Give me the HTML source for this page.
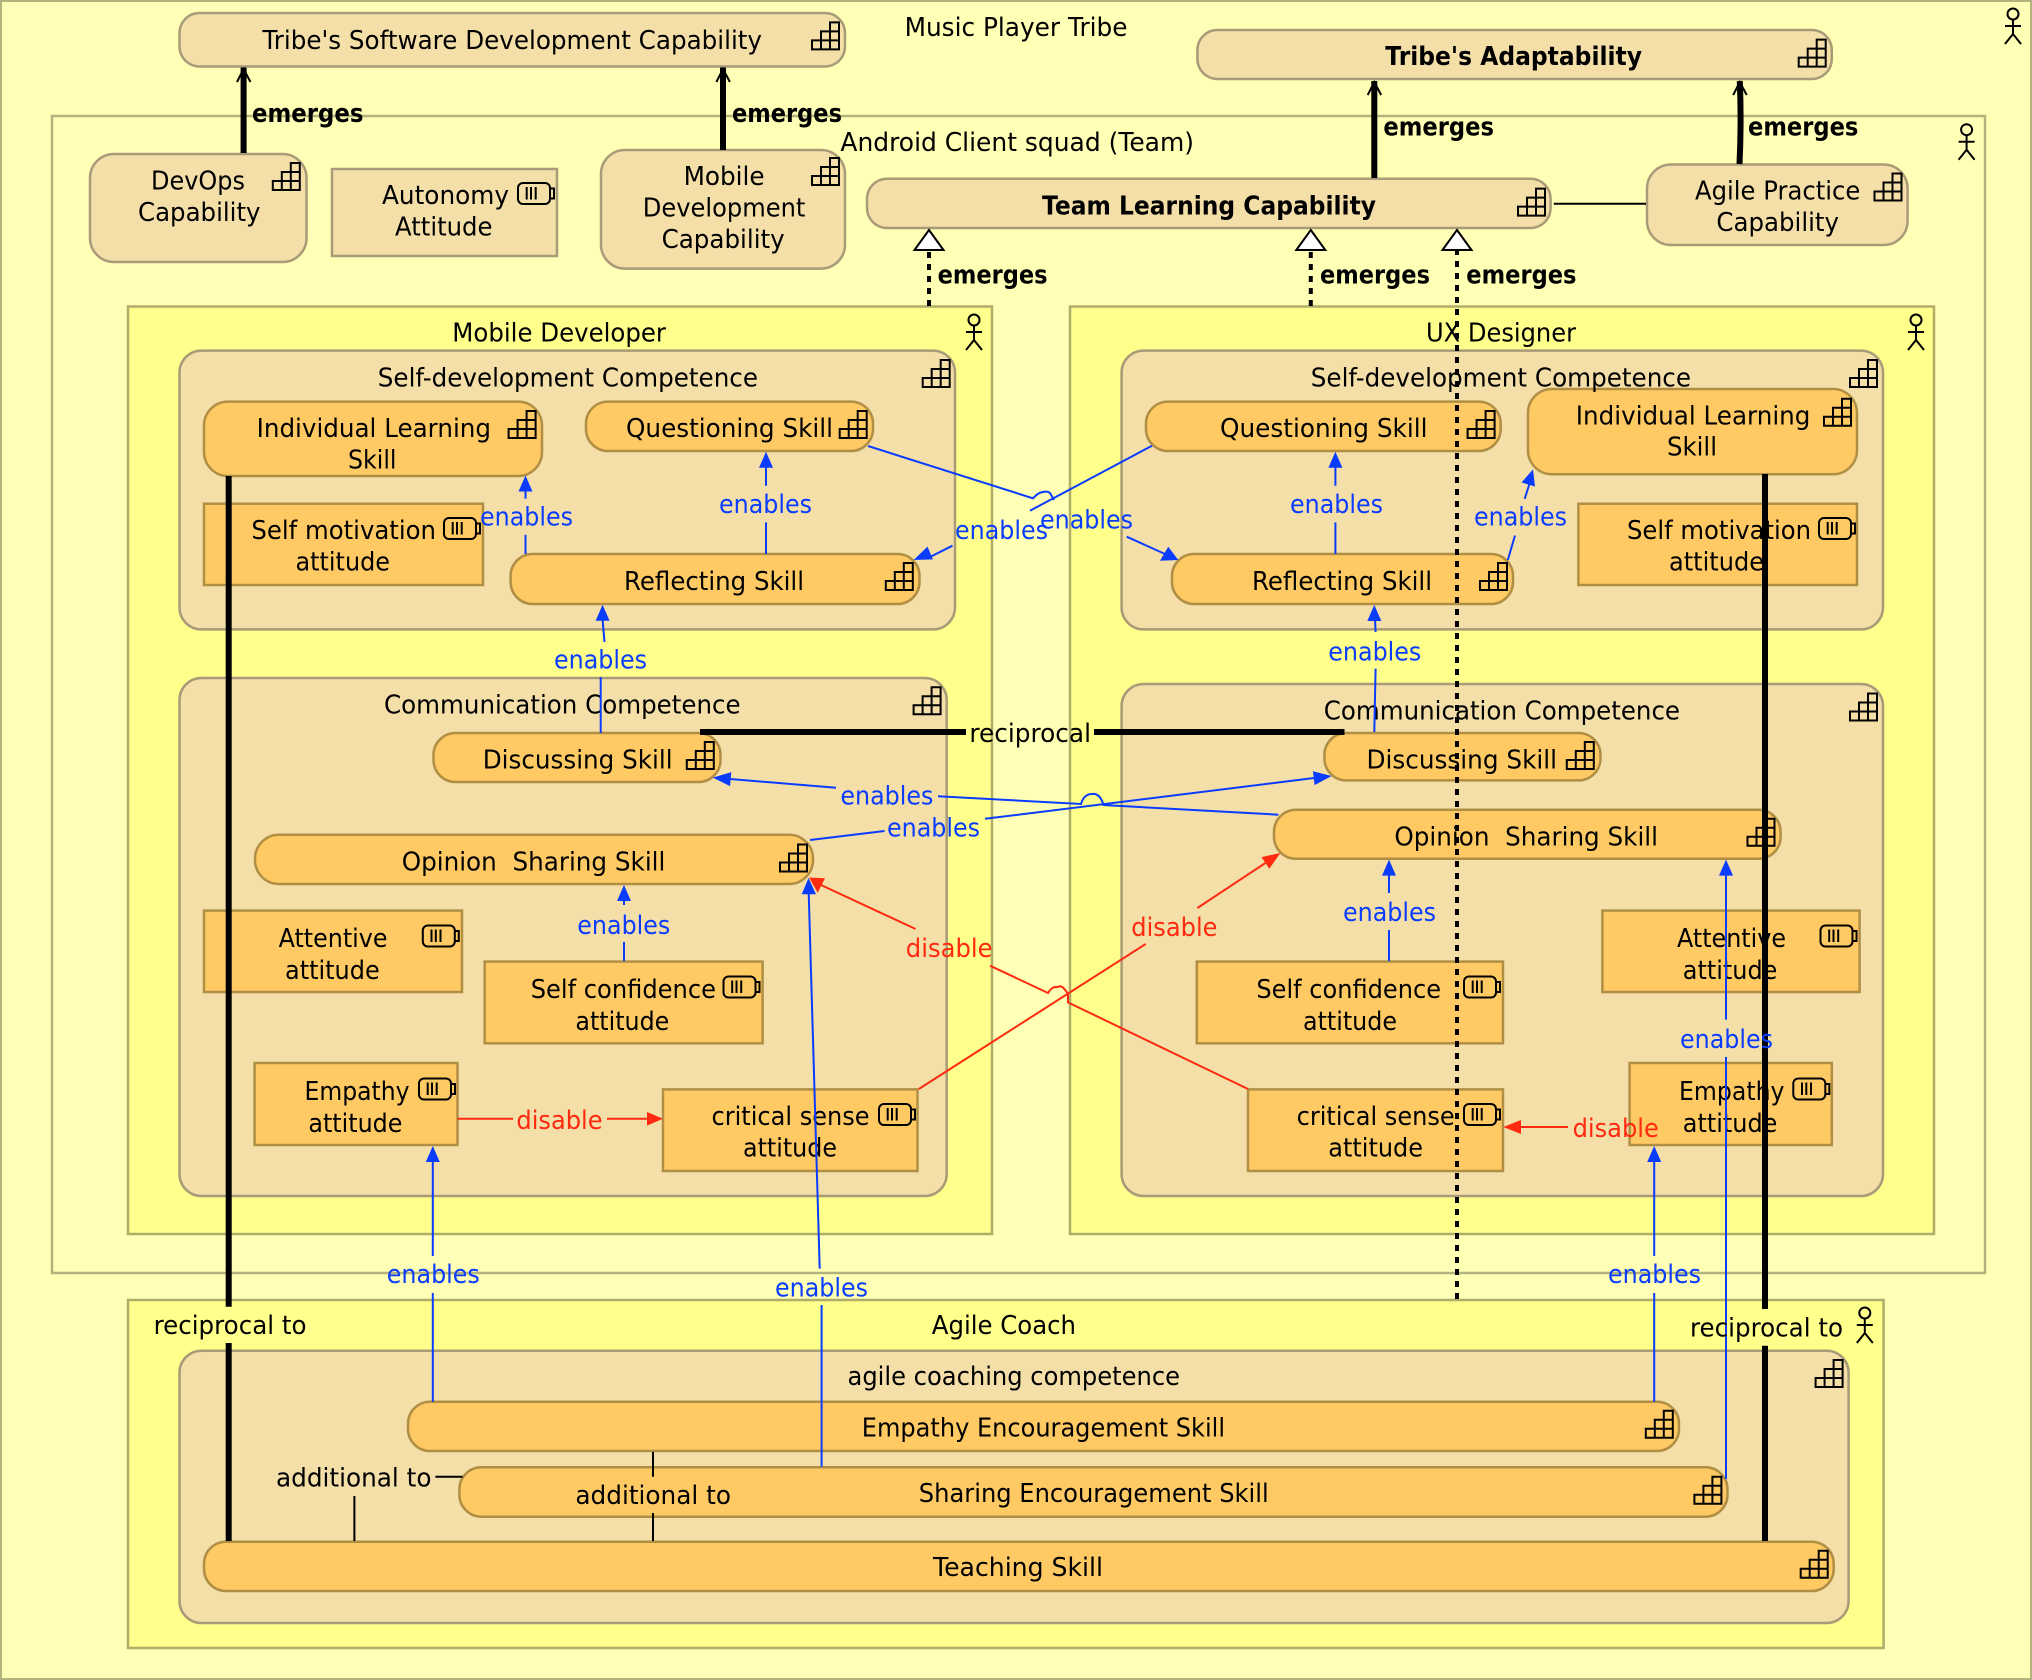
<!DOCTYPE html>
<html><head><meta charset="utf-8"><title>Music Player Tribe</title>
<style>
html,body{margin:0;padding:0;background:#ffffb5}
svg{display:block}
text{font-family:"DejaVu Sans","Liberation Sans",sans-serif;font-size:26px;fill:#000;white-space:pre}
.b{font-weight:bold}
.e text,text.e{fill:#0a3cff}
text.r{fill:#ff2a10}
.cont{fill:#ffff8c;stroke:#b0ad6a;stroke-width:2.5}
.cap{fill:#f4dfa9;stroke:#a99b78;stroke-width:2.5}
.sk{fill:#ffca63;stroke:#b08f45;stroke-width:2.5}
.bl{fill:none;stroke:#0a3cff;stroke-width:2}
.rd{fill:none;stroke:#ff2a10;stroke-width:2}
.k6{fill:none;stroke:#000;stroke-width:6}
.k2{fill:none;stroke:#000;stroke-width:2}
.dash{fill:none;stroke:#000;stroke-width:4;stroke-dasharray:6 6}
.ah{fill:#0a3cff}.ahr{fill:#ff2a10}
</style></head><body>
<svg xmlns="http://www.w3.org/2000/svg" width="2032" height="1680" viewBox="0 0 2032 1680">
<defs>
<g id="ci" fill="none" stroke="#000" stroke-width="2"><path d="M18 0H27V27H0V18H9V9H18ZM18 9H27M9 18H27M18 0V27M9 18V27"/></g>
<g id="bi" fill="none" stroke="#000" stroke-width="2"><rect x="1" y="1" width="32" height="21" rx="5"/><path d="M9.700 5V17.500M14 5V17.500M18.700 5V17.500"/><path d="M33 6.500H37V16.500H33"/></g>
<g id="ac" fill="none" stroke="#000" stroke-width="2"><circle cx="0" cy="6" r="5.500"/><path d="M0 12V26M-8 18H8M0 26L-8 36M0 26L8 36"/></g>
</defs>

<rect x="1" y="1" width="2030" height="1678" fill="#ffffb5" stroke="#b3b37e" stroke-width="2"/>
<rect x="52" y="116" width="1933" height="1157" fill="#ffffb5" stroke="#b3b37e" stroke-width="2.500"/>

<!-- containers -->
<rect class="cont" x="128" y="306.500" width="864" height="927.500"/>
<rect class="cont" x="1070" y="306.500" width="864" height="927.500"/>
<rect class="cont" x="128" y="1300" width="1755.600" height="348"/>

<!-- top capabilities -->
<rect class="cap" x="179.500" y="13" width="665.500" height="53.500" rx="20"/>
<rect class="cap" x="1197.400" y="30" width="634.400" height="49" rx="20"/>
<rect class="cap" x="90" y="154" width="216.500" height="108" rx="24"/>
<rect class="cap" x="332" y="169" width="225" height="87"/>
<rect class="cap" x="601" y="150" width="244" height="118.600" rx="24"/>
<rect class="cap" x="867" y="178.800" width="683.600" height="49.200" rx="20"/>
<rect class="cap" x="1647" y="164.500" width="260.600" height="80.500" rx="24"/>

<!-- competences -->
<rect class="cap" x="179.500" y="350.600" width="775.500" height="278.800" rx="22"/>
<rect class="cap" x="1121.600" y="350.600" width="761.400" height="278.800" rx="22"/>
<rect class="cap" x="179.500" y="678" width="767.200" height="518" rx="22"/>
<rect class="cap" x="1121.600" y="684" width="761.400" height="512" rx="22"/>
<rect class="cap" x="179.500" y="1350.700" width="1669.100" height="272.300" rx="22"/>

<!-- skills left -->
<rect class="sk" x="204" y="401.600" width="338" height="74.400" rx="24"/>
<rect class="sk" x="586" y="401.600" width="287" height="49.400" rx="22"/>
<rect class="sk" x="204" y="503.700" width="279" height="81.300"/>
<rect class="sk" x="510.600" y="554" width="408.900" height="50" rx="22"/>
<rect class="sk" x="433.500" y="733" width="287" height="49" rx="22"/>
<rect class="sk" x="255" y="834.700" width="558" height="49.300" rx="24"/>
<rect class="sk" x="204" y="910.600" width="258" height="81.400"/>
<rect class="sk" x="484.700" y="961.600" width="277.900" height="81.700"/>
<rect class="sk" x="254.600" y="1063" width="202.900" height="82"/>
<rect class="sk" x="663" y="1089.400" width="254.500" height="81.600"/>

<!-- skills right -->
<rect class="sk" x="1146" y="401.600" width="354.700" height="49.400" rx="22"/>
<rect class="sk" x="1528" y="389" width="329" height="85.300" rx="24"/>
<rect class="sk" x="1578.400" y="503.700" width="278.600" height="81.300"/>
<rect class="sk" x="1172" y="554" width="341" height="50" rx="22"/>
<rect class="sk" x="1324.400" y="733" width="276.100" height="47.400" rx="22"/>
<rect class="sk" x="1274" y="809.800" width="506.600" height="49" rx="22"/>
<rect class="sk" x="1602.400" y="910.600" width="257.200" height="81.400"/>
<rect class="sk" x="1196.800" y="961.600" width="306.200" height="81.700"/>
<rect class="sk" x="1629.600" y="1063" width="202.200" height="82"/>
<rect class="sk" x="1248" y="1089.400" width="255" height="81.600"/>

<!-- skills coach -->
<rect class="sk" x="408" y="1401.700" width="1271" height="49.300" rx="22"/>
<rect class="sk" x="459.400" y="1467.300" width="1268.100" height="49.400" rx="22"/>
<rect class="sk" x="204" y="1541.700" width="1629.700" height="49.300" rx="22"/>

<!-- capability icons -->
<use href="#ci" x="812" y="22.400"/><use href="#ci" x="272.800" y="163"/><use href="#ci" x="812" y="158"/>
<use href="#ci" x="922.700" y="360"/><use href="#ci" x="508.600" y="411"/><use href="#ci" x="839.700" y="411"/>
<use href="#ci" x="885.800" y="563"/><use href="#ci" x="1518" y="188.600"/><use href="#ci" x="1798.700" y="39.600"/>
<use href="#ci" x="1874.500" y="173.500"/><use href="#ci" x="1850" y="360"/><use href="#ci" x="1467.600" y="411"/>
<use href="#ci" x="1824" y="398.800"/><use href="#ci" x="1480" y="563"/><use href="#ci" x="913.600" y="687.300"/>
<use href="#ci" x="686.800" y="742"/><use href="#ci" x="780" y="844.500"/><use href="#ci" x="1850" y="693.500"/>
<use href="#ci" x="1566.800" y="742"/><use href="#ci" x="1747.500" y="818.800"/><use href="#ci" x="1815.600" y="1360"/>
<use href="#ci" x="1645.800" y="1410.700"/><use href="#ci" x="1694.400" y="1476.700"/><use href="#ci" x="1800.700" y="1550.700"/>

<!-- attitude icons -->
<use href="#bi" x="517" y="182"/><use href="#bi" x="443" y="517"/><use href="#bi" x="1818" y="517"/>
<use href="#bi" x="421.800" y="924.500"/><use href="#bi" x="722.500" y="975.500"/><use href="#bi" x="418" y="1077.500"/>
<use href="#bi" x="878" y="1103"/><use href="#bi" x="1463" y="975.500"/><use href="#bi" x="1819.500" y="924.500"/>
<use href="#bi" x="1792.300" y="1077.500"/><use href="#bi" x="1463" y="1103"/>

<!-- actors -->
<use href="#ac" x="2013" y="8"/><use href="#ac" x="1966.600" y="123.700"/><use href="#ac" x="974" y="314"/>
<use href="#ac" x="1916" y="314"/><use href="#ac" x="1864.800" y="1307"/>

<!-- node text -->
<text x="904.600" y="36" textLength="222.900" lengthAdjust="spacingAndGlyphs">Music Player Tribe</text>
<text x="262.400" y="49" textLength="499.600" lengthAdjust="spacingAndGlyphs">Tribe's Software Development Capability</text>
<text class="b" x="1385.300" y="65" textLength="256.700" lengthAdjust="spacingAndGlyphs">Tribe's Adaptability</text>
<text x="840.400" y="151" textLength="353.600" lengthAdjust="spacingAndGlyphs">Android Client squad (Team)</text>
<text x="151" y="189.400" textLength="94" lengthAdjust="spacingAndGlyphs">DevOps</text>
<text x="138" y="220.800" textLength="122.500" lengthAdjust="spacingAndGlyphs">Capability</text>
<text x="382" y="204" textLength="127" lengthAdjust="spacingAndGlyphs">Autonomy</text>
<text x="395" y="235.500" textLength="97.500" lengthAdjust="spacingAndGlyphs">Attitude</text>
<text x="683.600" y="185" textLength="81" lengthAdjust="spacingAndGlyphs">Mobile</text>
<text x="642.800" y="216.700" textLength="162.600" lengthAdjust="spacingAndGlyphs">Development</text>
<text x="661.600" y="248" textLength="123.100" lengthAdjust="spacingAndGlyphs">Capability</text>
<text class="b" x="1042" y="214.300" textLength="334" lengthAdjust="spacingAndGlyphs">Team Learning Capability</text>
<text x="1695" y="199.600" textLength="165.300" lengthAdjust="spacingAndGlyphs">Agile Practice</text>
<text x="1716.400" y="231" textLength="122.600" lengthAdjust="spacingAndGlyphs">Capability</text>
<text x="452.300" y="341.600" textLength="213.700" lengthAdjust="spacingAndGlyphs">Mobile Developer</text>
<text x="1426" y="341.600" textLength="150" lengthAdjust="spacingAndGlyphs">UX Designer</text>
<text x="377.800" y="386.500" textLength="380.200" lengthAdjust="spacingAndGlyphs">Self-development Competence</text>
<text x="1310.800" y="386.500" textLength="380.200" lengthAdjust="spacingAndGlyphs">Self-development Competence</text>
<text x="256.600" y="437" textLength="234.400" lengthAdjust="spacingAndGlyphs">Individual Learning</text>
<text x="348" y="468.600" textLength="48.500" lengthAdjust="spacingAndGlyphs">Skill</text>
<text x="626" y="437" textLength="207" lengthAdjust="spacingAndGlyphs">Questioning Skill</text>
<text x="251.400" y="538.800" textLength="184.600" lengthAdjust="spacingAndGlyphs">Self motivation</text>
<text x="295.500" y="570.600" textLength="94.500" lengthAdjust="spacingAndGlyphs">attitude</text>
<text x="624" y="590" textLength="180" lengthAdjust="spacingAndGlyphs">Reflecting Skill</text>
<text x="1220" y="437" textLength="207.500" lengthAdjust="spacingAndGlyphs">Questioning Skill</text>
<text x="1575.800" y="424.500" textLength="234.600" lengthAdjust="spacingAndGlyphs">Individual Learning</text>
<text x="1667" y="455.500" textLength="50" lengthAdjust="spacingAndGlyphs">Skill</text>
<text x="1627" y="538.800" textLength="184" lengthAdjust="spacingAndGlyphs">Self motivation</text>
<text x="1669" y="570.600" textLength="95" lengthAdjust="spacingAndGlyphs">attitude</text>
<text x="1252" y="590" textLength="180" lengthAdjust="spacingAndGlyphs">Reflecting Skill</text>
<text x="384" y="713.500" textLength="356.600" lengthAdjust="spacingAndGlyphs">Communication Competence</text>
<text x="1323.800" y="719.600" textLength="356.200" lengthAdjust="spacingAndGlyphs">Communication Competence</text>
<text x="482.700" y="768.600" textLength="189.900" lengthAdjust="spacingAndGlyphs">Discussing Skill</text>
<text x="1366.500" y="768.600" textLength="190.500" lengthAdjust="spacingAndGlyphs">Discussing Skill</text>
<text x="401.700" y="870.600" textLength="263.700" lengthAdjust="spacingAndGlyphs">Opinion  Sharing Skill</text>
<text x="1394.400" y="845.300" textLength="263.600" lengthAdjust="spacingAndGlyphs">Opinion  Sharing Skill</text>
<text x="278.600" y="947" textLength="108.900" lengthAdjust="spacingAndGlyphs">Attentive</text>
<text x="285" y="978.800" textLength="94.700" lengthAdjust="spacingAndGlyphs">attitude</text>
<text x="530.700" y="998" textLength="185.300" lengthAdjust="spacingAndGlyphs">Self confidence</text>
<text x="575.400" y="1029.800" textLength="93.900" lengthAdjust="spacingAndGlyphs">attitude</text>
<text x="304.500" y="1100" textLength="105" lengthAdjust="spacingAndGlyphs">Empathy</text>
<text x="308.400" y="1131.800" textLength="94" lengthAdjust="spacingAndGlyphs">attitude</text>
<text x="711.500" y="1125" textLength="158.100" lengthAdjust="spacingAndGlyphs">critical sense</text>
<text x="743" y="1156.700" textLength="94" lengthAdjust="spacingAndGlyphs">attitude</text>
<text x="1256.400" y="998" textLength="184.600" lengthAdjust="spacingAndGlyphs">Self confidence</text>
<text x="1303" y="1029.800" textLength="94" lengthAdjust="spacingAndGlyphs">attitude</text>
<text x="1677" y="947" textLength="109" lengthAdjust="spacingAndGlyphs">Attentive</text>
<text x="1682.800" y="978.800" textLength="94.600" lengthAdjust="spacingAndGlyphs">attitude</text>
<text x="1679" y="1100" textLength="105.500" lengthAdjust="spacingAndGlyphs">Empathy</text>
<text x="1682.800" y="1131.800" textLength="94.600" lengthAdjust="spacingAndGlyphs">attitude</text>
<text x="1296.600" y="1125" textLength="158.100" lengthAdjust="spacingAndGlyphs">critical sense</text>
<text x="1328.300" y="1156.700" textLength="94.700" lengthAdjust="spacingAndGlyphs">attitude</text>
<text x="931.800" y="1334" textLength="144.200" lengthAdjust="spacingAndGlyphs">Agile Coach</text>
<text x="847.500" y="1385" textLength="332.500" lengthAdjust="spacingAndGlyphs">agile coaching competence</text>
<text x="861.800" y="1436.700" textLength="363.200" lengthAdjust="spacingAndGlyphs">Empathy Encouragement Skill</text>
<text x="918.800" y="1502" textLength="349.900" lengthAdjust="spacingAndGlyphs">Sharing Encouragement Skill</text>
<text x="933" y="1576" textLength="170" lengthAdjust="spacingAndGlyphs">Teaching Skill</text>

<!-- black solid connectors -->
<path class="k6" d="M243.600 153V67.500M723 150V67.500M1374.300 178V81M1739.500 164Q1741.500 122 1739.800 81"/>
<path class="k2" d="M237 82L243.600 69L250.500 82M716.400 82L723 69L729.900 82M1367.700 95L1374.300 82L1381.200 95M1733.200 95L1739.800 82L1746.700 95"/>
<path class="k2" d="M1553.800 203.700H1646"/>
<path class="k6" d="M228.700 476V1306.700M228.700 1343V1541M1765 474V1309M1765 1345.700V1541M700 732H966M1094 732H1344.500"/>
<path class="k2" d="M653 1452V1476.700M653 1513V1541M435.400 1476.700H462.600M354.400 1496V1541"/>

<!-- dashed realization -->
<path class="dash" d="M929 306V251M1310.800 306V251M1457 1299V251"/>
<path d="M929 230L914.500 250H943.500ZM1310.800 230L1296.300 250H1325.300ZM1457 230L1442.500 250H1471.500Z" fill="#fff" stroke="#000" stroke-width="2"/>

<!-- red connectors -->
<path class="rd" d="M457.500 1118.800H513M607 1118.800H648
M1248 1089L1068 1002.400V994Q1062 984 1058 987Q1052 986 1048 993L990 965.700M915.600 929L821 885
M918.800 1089L1145.600 944M1197.400 908L1265.400 863
M1568 1127H1520"/>
<path class="ahr" d="M663 1118.800L647 1112V1125.600ZM809 877.500L825 878.300L817.700 892.700ZM1280.400 853L1261.500 857.100L1269.300 868.700ZM1503.300 1127L1521 1120V1134Z"/>

<!-- blue connectors -->
<path class="bl" d="M525.500 554V534.700M525.500 498.800V490M766 554V522.400M766 485.700V467
M1152 445.700L1030 510.700M952.500 545.700L928 558
M868 446L1033 498.300Q1038 493 1041 492.500Q1047 490.500 1050 493L1054 500M1126.700 536.700L1165 554
M602.600 620L604.500 642M600.700 677V733
M1375 620L1375.600 632M1375.600 668.600L1374.300 732
M1335.400 554V522.400M1335.400 485.700V467
M1507.800 560L1515 535.500M1524.700 498.800L1530 482
M1278.400 814.700L1103.500 805Q1100 793 1092 794Q1084 794 1081 804L938 796.300M836 787.800L730 779
M810 840L884.500 831M985 818.800L1314 778
M624 961V942M624 905V899M1389 961V930M1389 893V874
M432.800 1401.700V1293M432.800 1256V1160
M821.600 1466.700V1305M819.700 1268.600L808.700 893
M1654.200 1401.700V1293M1654.200 1256V1160
M1726 1479V1057M1726 1019.600V874"/>
<path class="ah" d="M525.500 475.500L518.500 491.500H532.500ZM766 451.800L759 467.800H773ZM1335.400 451.800L1328.400 467.800H1342.400ZM602.600 604.800L595.600 620.800H609.600ZM1374.300 605L1367.300 621H1381.300ZM624 885L617 901H631ZM1389 859.600L1382 875.600H1396ZM432.800 1146L425.800 1162H439.800ZM808.500 878L801.700 894.300H816ZM1654.200 1146L1647.200 1162H1661.200ZM1726 859.600L1719 875.600H1733Z
M1533 469.400L1521.500 482.500L1535 486.500ZM712.800 777.600L730.100 786.100L731.300 772.100ZM1331.600 776L1314.600 785.100L1312.900 771.200ZM913.600 560L932.900 559.400L927.500 546.600ZM1178.300 560L1168.300 546.700L1160 560.700Z"/>

<!-- connector labels -->
<text class="b" x="252" y="122" textLength="111.500" lengthAdjust="spacingAndGlyphs">emerges</text>
<text class="b" x="732" y="122" textLength="110" lengthAdjust="spacingAndGlyphs">emerges</text>
<text class="b" x="1383.400" y="135.500" textLength="110.600" lengthAdjust="spacingAndGlyphs">emerges</text>
<text class="b" x="1748" y="135.500" textLength="110.400" lengthAdjust="spacingAndGlyphs">emerges</text>
<text class="b" x="937.600" y="283.700" textLength="110" lengthAdjust="spacingAndGlyphs">emerges</text>
<text class="b" x="1320" y="283.700" textLength="110" lengthAdjust="spacingAndGlyphs">emerges</text>
<text class="b" x="1466.300" y="283.700" textLength="110.200" lengthAdjust="spacingAndGlyphs">emerges</text>

<g class="e">
<text x="480" y="525.700" textLength="93" lengthAdjust="spacingAndGlyphs">enables</text>
<text x="719" y="513" textLength="93" lengthAdjust="spacingAndGlyphs">enables</text>
<text x="955" y="538.800" textLength="93" lengthAdjust="spacingAndGlyphs">enables</text>
<text x="1040" y="528.600" textLength="93" lengthAdjust="spacingAndGlyphs">enables</text>
<text x="1290" y="513" textLength="93" lengthAdjust="spacingAndGlyphs">enables</text>
<text x="1474" y="525.700" textLength="93" lengthAdjust="spacingAndGlyphs">enables</text>
<text x="554" y="668.600" textLength="93" lengthAdjust="spacingAndGlyphs">enables</text>
<text x="1328.300" y="660.400" textLength="93" lengthAdjust="spacingAndGlyphs">enables</text>
<text x="840.400" y="804.500" textLength="93" lengthAdjust="spacingAndGlyphs">enables</text>
<text x="887" y="836.300" textLength="93" lengthAdjust="spacingAndGlyphs">enables</text>
<text x="577.300" y="934" textLength="93" lengthAdjust="spacingAndGlyphs">enables</text>
<text x="1343" y="920.800" textLength="93" lengthAdjust="spacingAndGlyphs">enables</text>
<text x="1680" y="1048" textLength="93" lengthAdjust="spacingAndGlyphs">enables</text>
<text x="386.800" y="1283" textLength="93" lengthAdjust="spacingAndGlyphs">enables</text>
<text x="775" y="1296.500" textLength="93" lengthAdjust="spacingAndGlyphs">enables</text>
<text x="1608" y="1283" textLength="93" lengthAdjust="spacingAndGlyphs">enables</text>
</g>
<text class="r" x="905.800" y="957" textLength="86.800" lengthAdjust="spacingAndGlyphs">disable</text>
<text class="r" x="1131.300" y="936" textLength="86.200" lengthAdjust="spacingAndGlyphs">disable</text>
<text class="r" x="516.400" y="1129" textLength="86.200" lengthAdjust="spacingAndGlyphs">disable</text>
<text class="r" x="1572.600" y="1137" textLength="86.200" lengthAdjust="spacingAndGlyphs">disable</text>

<text x="969.400" y="742" textLength="121.600" lengthAdjust="spacingAndGlyphs">reciprocal</text>
<text x="153.600" y="1334" textLength="152.900" lengthAdjust="spacingAndGlyphs">reciprocal to</text>
<text x="1690" y="1336.700" textLength="153" lengthAdjust="spacingAndGlyphs">reciprocal to</text>
<text x="276" y="1486.700" textLength="155.500" lengthAdjust="spacingAndGlyphs">additional to</text>
<text x="575.400" y="1504" textLength="155.600" lengthAdjust="spacingAndGlyphs">additional to</text>
</svg>
</body></html>
